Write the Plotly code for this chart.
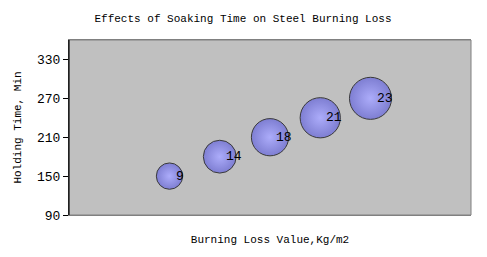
import plotly.graph_objects as go

x_vals = [1, 2, 3, 4, 5]
holding_time = [150, 180, 210, 240, 270]
burning_loss = [9, 14, 18, 21, 23]
y_ticks = [90, 150, 210, 270, 330]

FONT = "Liberation Mono"

fig = go.Figure()
fig.add_trace(go.Scatter(
    x=x_vals, y=holding_time, mode="markers",
    marker=dict(size=burning_loss, sizemode="area", sizeref=2/77.0,
                color="#7e7ed2", opacity=1,
                gradient=dict(type="radial", color="#acacfa"),
                line=dict(color="#3a3a3a", width=1)),
    hoverinfo="skip", showlegend=False,
))
for xv, yv, s in zip(x_vals, holding_time, burning_loss):
    fig.add_annotation(x=xv, y=yv, text=str(s), showarrow=False,
                       xanchor="left", yanchor="middle", xshift=4,
                       font=dict(family=FONT, size=13, color="black"))

W, H = 471, 241
fig.update_layout(
    width=W, height=H,
    margin=dict(l=61, r=8, t=32, b=34, autoexpand=False),
    paper_bgcolor="white", plot_bgcolor="#c0c0c0",
    title=dict(text="Effects of Soaking Time on Steel Burning Loss",
               x=(243 - 8) / W, xanchor="center", y=1 - 10 / H, yanchor="middle",
               font=dict(family=FONT, size=11, color="black")),
    font=dict(family=FONT, size=11, color="black"),
)
fig.update_xaxes(range=[-1, 7], showticklabels=False, ticks="", showgrid=False,
                 zeroline=False, showline=True, linecolor="#808080", linewidth=1,
                 mirror=True, automargin=False,
                 title=dict(text="Burning Loss Value,Kg/m2", standoff=20,
                            font=dict(family=FONT, size=11)))
fig.update_yaxes(range=[90, 360], tickvals=y_ticks, ticks="outside", ticklen=5,
                 tickcolor="black", showgrid=False, zeroline=False,
                 showline=True, linecolor="black", linewidth=1, automargin=False,
                 tickfont=dict(family=FONT, size=13),
                 title=dict(text="Holding Time, Min", standoff=13,
                            font=dict(family=FONT, size=11)))
fig.add_shape(type="rect", xref="paper", yref="paper", x0=0, x1=1, y0=0, y1=1,
              line=dict(color="#808080", width=1), layer="above")
fig.add_shape(type="line", xref="paper", yref="paper", x0=0, x1=0, y0=0, y1=1,
              line=dict(color="black", width=1), layer="above")

fig.write_html("out.html")
